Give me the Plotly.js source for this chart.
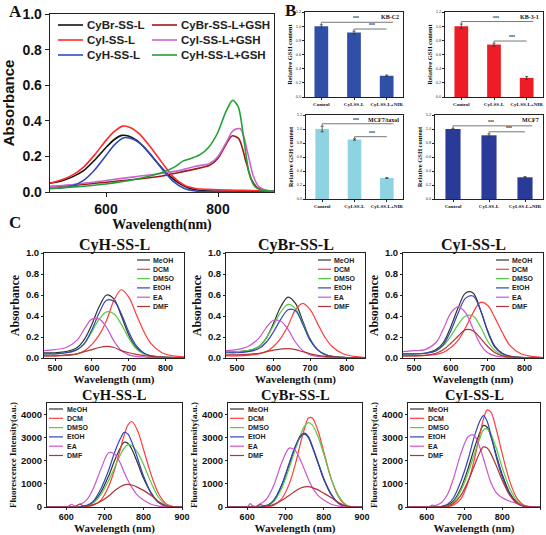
<!DOCTYPE html>
<html><head><meta charset="utf-8">
<script src="https://cdn.plot.ly/plotly-3.0.1.min.js"></script>
<style>html,body{margin:0;padding:0;background:#fff}#chart{width:546px;height:535px}</style>
</head><body><div id="chart"></div>
<script>
// ---------------- Panel A data ----------------
const aNames = ['CyBr-SS-L','CyBr-SS-L+GSH','CyI-SS-L','CyI-SS-L+GSH','CyH-SS-L','CyH-SS-L+GSH'];
const aColors = ['#111111','#9B1B1B','#FF2A2A','#CC66CC','#3348C0','#22A035'];
const aX_CyBr = [500,520,540,560,580,600,615,628,640,655,670,690,710,730,750,770,800,850,900];
const aY_CyBr = [0.05,0.062,0.085,0.12,0.18,0.25,0.295,0.318,0.315,0.29,0.245,0.17,0.10,0.05,0.02,0.008,0.004,0.002,0.001];
const aX_CyBrGSH = [500,550,600,650,700,730,760,785,800,813,825,837,850,860,870,885,900];
const aY_CyBrGSH = [0.03,0.04,0.055,0.07,0.09,0.11,0.13,0.15,0.19,0.26,0.315,0.30,0.17,0.07,0.025,0.01,0.005];
const aX_CyI = [500,520,540,560,580,600,615,630,645,660,680,700,720,740,760,780,800,830,860,900];
const aY_CyI = [0.05,0.068,0.095,0.14,0.21,0.29,0.34,0.37,0.36,0.325,0.25,0.165,0.085,0.038,0.02,0.015,0.012,0.01,0.008,0.005];
const aX_CyIGSH = [500,550,600,650,700,730,760,785,800,815,827,840,853,863,873,885,900];
const aY_CyIGSH = [0.03,0.045,0.065,0.085,0.105,0.12,0.145,0.16,0.20,0.28,0.345,0.355,0.22,0.09,0.03,0.01,0.005];
const aX_CyH = [500,520,540,560,580,600,615,632,645,660,680,700,720,740,760,800,900];
const aY_CyH = [0.02,0.022,0.035,0.065,0.125,0.205,0.265,0.305,0.30,0.275,0.21,0.13,0.06,0.02,0.006,0.002,0.0];
const aX_CyHGSH = [500,550,600,650,700,722,738,753,768,783,799,814,826,836,846,856,866,878,900];
const aY_CyHGSH = [0.02,0.03,0.045,0.07,0.11,0.14,0.175,0.19,0.21,0.25,0.33,0.45,0.515,0.48,0.30,0.10,0.03,0.01,0.005];

// ---------------- Panel B data ----------------
const bCats = ['Control','CyI-SS-L','CyI-SS-L+NIR'];
const bTitles = ['KB-C2','KB-3-1','MCF7/taxol','MCF7'];
const bColors = ['#3050A8','#EE1D25','#8ED3E2','#2A3A98'];
const bKBC2 = [1.00,0.91,0.30];      const bKBC2Err = [0.02,0.02,0.01];
const bKB31 = [1.00,0.74,0.27];      const bKB31Err = [0.03,0.02,0.02];
const bMCF7T = [1.00,0.85,0.30];     const bMCF7TErr = [0.04,0.01,0.005];
const bMCF7 = [1.00,0.91,0.31];      const bMCF7Err = [0.01,0.02,0.01];

// ---------------- Panel C data ----------------
const solvents = ['MeOH','DCM','DMSO','EtOH','EA','DMF'];
const cColors = ['#333333','#FF3B3B','#55CC44','#3344BB','#CC55CC','#B03535'];
const cTitles = ['CyH-SS-L','CyBr-SS-L','CyI-SS-L'];
const absWl = [470,500,530,560,580,600,620,640,660,680,700,720,740,760,790,820,850];
const absCyH = [
 [0.05,0.05,0.06,0.10,0.18,0.32,0.49,0.60,0.56,0.40,0.22,0.10,0.045,0.02,0.008,0.003,0.002],
 [0.02,0.02,0.025,0.04,0.07,0.13,0.22,0.36,0.55,0.65,0.58,0.42,0.26,0.14,0.05,0.02,0.01],
 [0.04,0.04,0.05,0.08,0.14,0.25,0.37,0.44,0.42,0.32,0.19,0.09,0.04,0.02,0.008,0.003,0.002],
 [0.04,0.04,0.05,0.08,0.14,0.27,0.43,0.55,0.54,0.42,0.25,0.12,0.05,0.02,0.008,0.003,0.002],
 [0.07,0.08,0.10,0.17,0.28,0.37,0.37,0.29,0.16,0.07,0.03,0.015,0.01,0.005,0.003,0.002,0.002],
 [0.02,0.02,0.03,0.04,0.06,0.08,0.10,0.11,0.10,0.07,0.05,0.035,0.025,0.015,0.008,0.005,0.003]];
const absCyBr = [
 [0.06,0.06,0.07,0.11,0.19,0.33,0.49,0.58,0.52,0.35,0.18,0.08,0.035,0.015,0.006,0.003,0.002],
 [0.02,0.02,0.025,0.04,0.06,0.11,0.19,0.31,0.46,0.52,0.46,0.33,0.20,0.11,0.04,0.015,0.005],
 [0.06,0.06,0.07,0.11,0.19,0.31,0.44,0.51,0.47,0.33,0.17,0.08,0.035,0.015,0.006,0.003,0.002],
 [0.05,0.05,0.06,0.09,0.15,0.25,0.37,0.46,0.45,0.32,0.17,0.08,0.035,0.015,0.006,0.003,0.002],
 [0.07,0.08,0.11,0.19,0.29,0.36,0.35,0.27,0.15,0.07,0.03,0.015,0.008,0.005,0.003,0.002,0.002],
 [0.03,0.03,0.035,0.045,0.06,0.075,0.085,0.09,0.08,0.06,0.04,0.025,0.015,0.01,0.005,0.003,0.002]];
const absCyI = [
 [0.04,0.04,0.045,0.08,0.15,0.30,0.48,0.62,0.62,0.46,0.25,0.10,0.04,0.015,0.006,0.003,0.002],
 [0.02,0.02,0.025,0.035,0.055,0.10,0.17,0.29,0.43,0.53,0.50,0.38,0.24,0.12,0.04,0.015,0.005],
 [0.04,0.04,0.045,0.07,0.12,0.21,0.32,0.40,0.40,0.30,0.16,0.07,0.03,0.012,0.005,0.002,0.002],
 [0.04,0.04,0.045,0.07,0.13,0.26,0.43,0.57,0.59,0.46,0.26,0.11,0.045,0.018,0.006,0.003,0.002],
 [0.06,0.07,0.08,0.15,0.28,0.43,0.49,0.43,0.28,0.13,0.05,0.02,0.01,0.005,0.003,0.002,0.002],
 [0.02,0.02,0.025,0.045,0.08,0.14,0.21,0.27,0.26,0.19,0.11,0.05,0.02,0.01,0.005,0.003,0.002]];
const flWl = [550,600,608,614,622,635,645,655,670,690,710,725,740,750,760,770,785,800,820,840,860,880,900];
const flCyH = [
 [0,0,0,0,0,0,30,60,200,650,1350,2000,2550,2800,2750,2500,1900,1250,600,200,30,0,0],
 [0,0,0,0,0,0,0,20,80,300,900,1600,2500,3100,3550,3700,3300,2500,1400,550,120,10,0],
 [0,0,0,0,0,0,40,60,180,550,1150,1700,2250,2550,2700,2650,2350,1850,1050,400,80,5,0],
 [0,0,0,0,0,0,50,80,250,800,1600,2350,2950,3230,3150,2800,2100,1350,600,180,30,0,0],
 [0,0,60,120,40,120,200,350,800,1650,2350,2300,1900,1500,1150,850,500,300,120,40,10,0,0],
 [0,0,0,0,0,130,30,40,100,250,480,700,880,960,980,950,850,720,500,230,50,5,0]];
const flCyBr = [
 [0,0,0,0,0,0,50,85,290,920,1850,2550,3050,3150,3000,2600,1900,1200,520,140,20,0,0],
 [0,0,0,0,0,0,0,20,80,350,1000,1800,2800,3400,3850,3850,3300,2400,1200,400,60,0,0],
 [0,0,0,0,0,0,40,70,250,800,1700,2450,3150,3500,3650,3550,3050,2300,1200,450,80,5,0],
 [0,0,0,0,0,0,50,90,300,950,1900,2600,3100,3200,3050,2650,1950,1250,550,150,20,0,0],
 [0,0,150,60,30,150,250,450,950,1900,2550,2450,2000,1600,1200,850,500,300,120,40,10,0,0],
 [0,0,0,0,0,100,30,50,120,280,500,680,820,870,880,840,740,600,400,180,40,0,0]];
const flCyI = [
 [0,0,0,0,0,0,40,80,250,800,1700,2500,3200,3530,3450,3050,2200,1400,600,180,30,0,0],
 [0,0,0,0,0,0,0,20,80,350,1100,2000,3100,3800,4200,4100,3300,2300,1100,350,50,0,0],
 [0,0,0,0,0,0,30,60,200,700,1500,2250,2950,3330,3380,3150,2500,1700,800,250,40,0,0],
 [0,0,0,0,0,0,60,120,380,1100,2100,3000,3700,3950,3700,3100,2100,1300,550,150,20,0,0],
 [0,0,30,80,60,150,300,550,1200,2300,3050,3100,2600,2100,1550,1050,600,400,250,150,60,10,0],
 [0,0,0,0,0,0,20,50,150,500,1150,1750,2350,2600,2550,2300,1750,1150,500,150,25,0,0]];

// ---------------- layout helpers ----------------
const W = 546, H = 535;
const FS = 'Liberation Sans, Arial, sans-serif';
const FT = 'Liberation Serif, Times New Roman, serif';
const PX = (a,b)=>[a/W, b/W];
const PY = (t,b)=>[1-b/H, 1-t/H];
const box = {
  A:{l:50,r:274,t:14,b:192},
  B1:{l:305,r:403,t:12,b:97}, B2:{l:445,r:543,t:12,b:97},
  B3:{l:306,r:403,t:115,b:199}, B4:{l:435,r:543,t:115,b:199},
  CT1:{l:44,r:184,t:253,b:358}, CT2:{l:226,r:365,t:253,b:358}, CT3:{l:403,r:543,t:253,b:358},
  CB1:{l:47,r:182,t:403,b:507}, CB2:{l:228,r:362,t:403,b:507}, CB3:{l:408,r:540,t:403,b:507}
};
const base = {showline:true, linecolor:'#222', linewidth:1, mirror:true, ticks:'outside',
  ticklen:3, tickwidth:1, tickcolor:'#222', showgrid:false, zeroline:false, fixedrange:true};
function ax(o){ return Object.assign({}, base, o); }
const bold = (family,size,color)=>({family, size, weight:'bold', color: color||'#111'});

const traces = [];
const shapes = [];
const annotations = [];
const layout = {width:W, height:H, margin:{l:0,r:0,t:0,b:0}, paper_bgcolor:'#fff',
  plot_bgcolor:'#fff', showlegend:false};

function legendItem(name, color, x0, x1, xt, y, fs, lw){
  shapes.push({type:'line', xref:'paper', yref:'paper', x0:x0/W, x1:x1/W, y0:1-y/H, y1:1-y/H,
    line:{color, width:lw}});
  annotations.push({xref:'paper', yref:'paper', x:xt/W, y:1-y/H, xanchor:'left', yanchor:'middle',
    text:name, showarrow:false, borderpad:0, font:bold(FS, fs, '#222')});
}

// ---------------- Panel A ----------------
const aXs = [aX_CyBr,aX_CyBrGSH,aX_CyI,aX_CyIGSH,aX_CyH,aX_CyHGSH];
const aYs = [aY_CyBr,aY_CyBrGSH,aY_CyI,aY_CyIGSH,aY_CyH,aY_CyHGSH];
aNames.forEach((n,i)=>{
  traces.push({type:'scatter', mode:'lines', x:aXs[i], y:aYs[i], name:n, xaxis:'x', yaxis:'y',
    line:{color:aColors[i], width:1.6, shape:'spline', smoothing:0.8}, hoverinfo:'skip'});
  const col = i%2, row = Math.floor(i/2);
  const lx = col===0 ? 58 : 152;
  legendItem(n, aColors[i], lx, lx+25, lx+28, 25+row*15, 11.5, 1.6);
});
layout.xaxis = ax({domain:PX(box.A.l,box.A.r), anchor:'y', range:[500,900], tickvals:[600,800],
  ticklen:4, linewidth:1.3, tickfont:bold(FS,14),
  title:{text:'Wavelength(nm)', font:bold(FT,14), standoff:3}});
layout.yaxis = ax({domain:PY(box.A.t,box.A.b), anchor:'x', range:[0,1], dtick:0.2, tickformat:'.1f',
  ticklen:4, linewidth:1.3, tickfont:bold(FS,14),
  title:{text:'Absorbance', font:bold(FS,15), standoff:5}});

// ---------------- Panel B ----------------
const bVals = [bKBC2,bKB31,bMCF7T,bMCF7];
const bErrs = [bKBC2Err,bKB31Err,bMCF7TErr,bMCF7Err];
const bBoxes = [box.B1,box.B2,box.B3,box.B4];
const bPos = [0,1,2];
bVals.forEach((v,k)=>{
  const n = k+2, xa='x'+n, ya='y'+n;
  traces.push({type:'bar', x:bPos, y:v, xaxis:xa, yaxis:ya, width:0.42,
    marker:{color:bColors[k], line:{width:0}},
    error_y:{type:'data', array:bErrs[k], visible:true, color:'#333', thickness:0.8, width:1.5},
    hoverinfo:'skip'});
  // significance brackets: Control vs NIR, CyI vs NIR
  const pairs = [[0,2,0.035],[1,2,0.03]];
  pairs.forEach(([i,j,off])=>{
    const top = v[i]+bErrs[k][i];
    const lvl = top+off;
    traces.push({type:'scatter', mode:'lines', x:[i,i,j+(j-i>1?0.2:0)], y:[top+0.005,lvl,lvl],
      xaxis:xa, yaxis:ya, line:{color:'#777', width:1}, hoverinfo:'skip'});
    annotations.push({xref:xa, yref:ya, x:(i+j)/2+0.05, y:lvl, yanchor:'bottom', text:'***',
      showarrow:false, borderpad:0, font:bold(FS,5,'#333')});
  });
  const bx = bBoxes[k];
  annotations.push({xref:xa+' domain', yref:ya+' domain', x:0.97, y:0.985, xanchor:'right', yanchor:'top',
    text:bTitles[k], showarrow:false, borderpad:0, font:bold(FT,6,'#111')});
  layout['xaxis'+n] = ax({domain:PX(bx.l,bx.r), anchor:ya, range:[-0.5,2.5], tickvals:bPos, ticktext:bCats,
    ticklen:2, tickfont:bold(FT,5)});
  layout['yaxis'+n] = ax({domain:PY(bx.t,bx.b), anchor:xa, range:[0,1.2], dtick:0.2, tickformat:'.1f',
    ticklen:2, tickfont:{family:FS, size:4, color:'#333'},
    title:{text:'Relative GSH content', font:bold(FT,6.5), standoff:2}});
});

// ---------------- Panel C ----------------
const absSets = [absCyH,absCyBr,absCyI];
const flSets = [flCyH,flCyBr,flCyI];
const ctBoxes = [box.CT1,box.CT2,box.CT3];
const cbBoxes = [box.CB1,box.CB2,box.CB3];
for(let k=0;k<3;k++){
  const n = 6+k, xa='x'+n, ya='y'+n, bx=ctBoxes[k];
  absSets[k].forEach((row,s)=>{
    traces.push({type:'scatter', mode:'lines', x:absWl, y:row, name:solvents[s], xaxis:xa, yaxis:ya,
      line:{color:cColors[s], width:1.2, shape:'spline', smoothing:1}, hoverinfo:'skip'});
    legendItem(solvents[s], cColors[s], bx.r-47, bx.r-34, bx.r-32, bx.t+7+s*9.3, 7, 1.2);
  });
  layout['xaxis'+n] = ax({domain:PX(bx.l,bx.r), anchor:ya, range:[470,850], tickvals:[500,600,700,800],
    ticklen:2, ticklabelstandoff:-1, tickfont:bold(FS,9),
    title:{text:'Wavelength (nm)', font:bold(FT,11), standoff:0}});
  layout['yaxis'+n] = ax({domain:PY(bx.t,bx.b), anchor:xa, range:[0,1], dtick:0.2, tickformat:'.1f',
    ticklen:2, tickfont:bold(FS,9.5), title:{text:'Absorbance', font:bold(FT,12), standoff:3}});
  annotations.push({xref:'paper', yref:'paper', x:(bx.l+bx.r)/2/W, y:1-(bx.t-8)/H, xanchor:'center',
    yanchor:'middle', text:cTitles[k], showarrow:false, borderpad:0, font:bold(FT,16)});
}
for(let k=0;k<3;k++){
  const n = 9+k, xa='x'+n, ya='y'+n, bx=cbBoxes[k];
  flSets[k].forEach((row,s)=>{
    traces.push({type:'scatter', mode:'lines', x:flWl, y:row, name:solvents[s], xaxis:xa, yaxis:ya,
      line:{color:cColors[s], width:1.2, shape:'spline', smoothing:0.9}, hoverinfo:'skip'});
    legendItem(solvents[s], cColors[s], bx.l+2, bx.l+16, bx.l+19, bx.t+6+s*9.3, 7, 1.2);
  });
  layout['xaxis'+n] = ax({domain:PX(bx.l,bx.r), anchor:ya, range:[550,900], tickvals:[600,700,800,900],
    ticklen:2, ticklabelstandoff:-1, tickfont:bold(FS,9),
    title:{text:'Wavelength (nm)', font:bold(FT,11), standoff:0}});
  layout['yaxis'+n] = ax({domain:PY(bx.t,bx.b), anchor:xa, range:[0,4500], tickvals:[0,1000,2000,3000,4000],
    ticklen:2, tickfont:bold(FS,9.5), title:{text:'Fluorescence Intensity(a.u.)', font:bold(FT,9), standoff:2}});
  annotations.push({xref:'paper', yref:'paper', x:(bx.l+bx.r)/2/W, y:1-(bx.t-8)/H, xanchor:'center',
    yanchor:'middle', text:cTitles[k], showarrow:false, borderpad:0, font:bold(FT,14.5)});
}

// panel letters
[['A',8,11],['B',284,10],['C',8,222]].forEach(([t,x,y])=>{
  annotations.push({xref:'paper', yref:'paper', x:x/W, y:1-y/H, xanchor:'left', yanchor:'middle',
    text:t, showarrow:false, borderpad:0, font:bold(FT,17)});
});

layout.shapes = shapes;
layout.annotations = annotations;
Plotly.newPlot('chart', traces, layout, {staticPlot:true, displayModeBar:false});
</script>
</body></html>
